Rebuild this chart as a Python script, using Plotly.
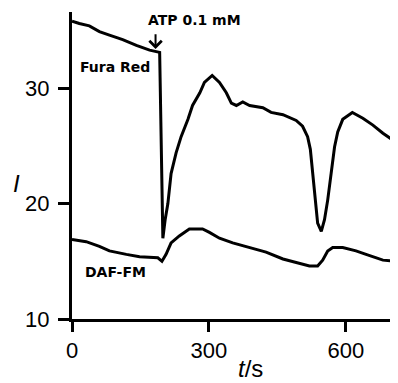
import plotly.graph_objects as go

# Fura Red trace (time in s, intensity I)
fura_t = [0, 16, 38, 60, 82, 111, 141, 170, 192, 194, 199, 204, 210, 217, 228, 239, 254,
          264, 272, 280, 290, 307, 323, 338, 349, 360, 374, 389, 418, 436, 462, 491, 505,
          516, 522, 527, 533, 538, 546, 553, 560, 568, 575, 582, 593, 614, 637, 659, 681, 713]
fura_i = [35.8, 35.6, 35.4, 34.9, 34.6, 34.2, 33.7, 33.3, 33.1, 27.1, 17.0, 18.6, 20.0, 22.6,
          24.4, 25.8, 27.3, 28.5, 29.1, 29.6, 30.5, 31.1, 30.5, 29.6, 28.7, 28.5, 28.8, 28.5,
          28.3, 27.9, 27.7, 27.2, 26.7, 25.8, 24.7, 22.5, 19.8, 18.3, 17.6, 18.6, 20.3, 22.7,
          24.9, 26.2, 27.3, 27.9, 27.4, 26.8, 26.1, 25.2]

# DAF-FM trace
daf_t = [0, 31, 60, 82, 119, 148, 188, 197, 206, 217, 235, 257, 279, 286, 301, 323, 352,
         389, 425, 462, 491, 520, 538, 549, 560, 571, 593, 622, 644, 681, 713]
daf_i = [16.9, 16.7, 16.3, 15.9, 15.6, 15.4, 15.3, 15.0, 15.6, 16.6, 17.2, 17.8, 17.8, 17.8,
         17.5, 17.0, 16.6, 16.2, 15.8, 15.2, 14.9, 14.6, 14.6, 15.1, 15.9, 16.2, 16.2, 15.9,
         15.6, 15.1, 15.0]

x_ticks = [0, 300, 600]
y_ticks = [10, 20, 30]

FONT = "Liberation Sans, Arial, sans-serif"
BOLD = "DejaVu Sans, sans-serif"

fig = go.Figure()
fig.add_trace(go.Scatter(x=fura_t, y=fura_i, mode="lines",
                         line=dict(color="black", width=3), showlegend=False))
fig.add_trace(go.Scatter(x=daf_t, y=daf_i, mode="lines",
                         line=dict(color="black", width=3), showlegend=False))

fig.update_xaxes(range=[0, 714], tickvals=x_ticks, ticks="outside", ticklen=10, tickwidth=2.5,
                 tickcolor="black", showline=True, linecolor="black", linewidth=3,
                 showgrid=False, zeroline=False, ticklabelstandoff=0,
                 tickfont=dict(family=FONT, size=22, color="black"))
fig.update_yaxes(range=[10, 36.6], tickvals=y_ticks, ticks="outside", ticklen=11, tickwidth=2.5,
                 tickcolor="black", showline=True, linecolor="black", linewidth=3,
                 showgrid=False, zeroline=False, ticklabelstandoff=4,
                 tickfont=dict(family=FONT, size=22, color="black"))

fig.add_annotation(x=14, y=31.8, text="<b>Fura Red</b>", showarrow=False, xanchor="left",
                   yanchor="middle", font=dict(family=BOLD, size=14, color="black"))
fig.add_annotation(x=23, y=14.1, text="<b>DAF-FM</b>", showarrow=False, xanchor="left",
                   yanchor="middle", font=dict(family=BOLD, size=14, color="black"))
fig.add_annotation(x=163, y=35.9, text="<b>ATP 0.1 mM</b>", showarrow=False, xanchor="left",
                   yanchor="middle", font=dict(family=BOLD, size=14, color="black"))
fig.add_annotation(x=183, y=33.4, ax=183, ay=34.8, axref="x", ayref="y", text="",
                   showarrow=True, arrowhead=4, arrowsize=1.2, arrowwidth=2, arrowcolor="black")
fig.add_annotation(xref="paper", yref="paper", x=-0.17, y=0.44, text="<i>I</i>", showarrow=False,
                   xanchor="center", yanchor="middle", font=dict(family=FONT, size=24, color="black"))
fig.add_annotation(xref="paper", yref="paper", x=0.549, y=-0.16, text="<i>t</i>/s",
                   showarrow=False, xanchor="center", yanchor="middle",
                   font=dict(family=FONT, size=24, color="black"))

# page body has an 8px default margin, so the figure is sized to fit the 398x383 window
fig.update_layout(width=390, height=375, margin=dict(l=64, r=0, t=4, b=64),
                  plot_bgcolor="white", paper_bgcolor="white")

fig.write_html("out.html")
